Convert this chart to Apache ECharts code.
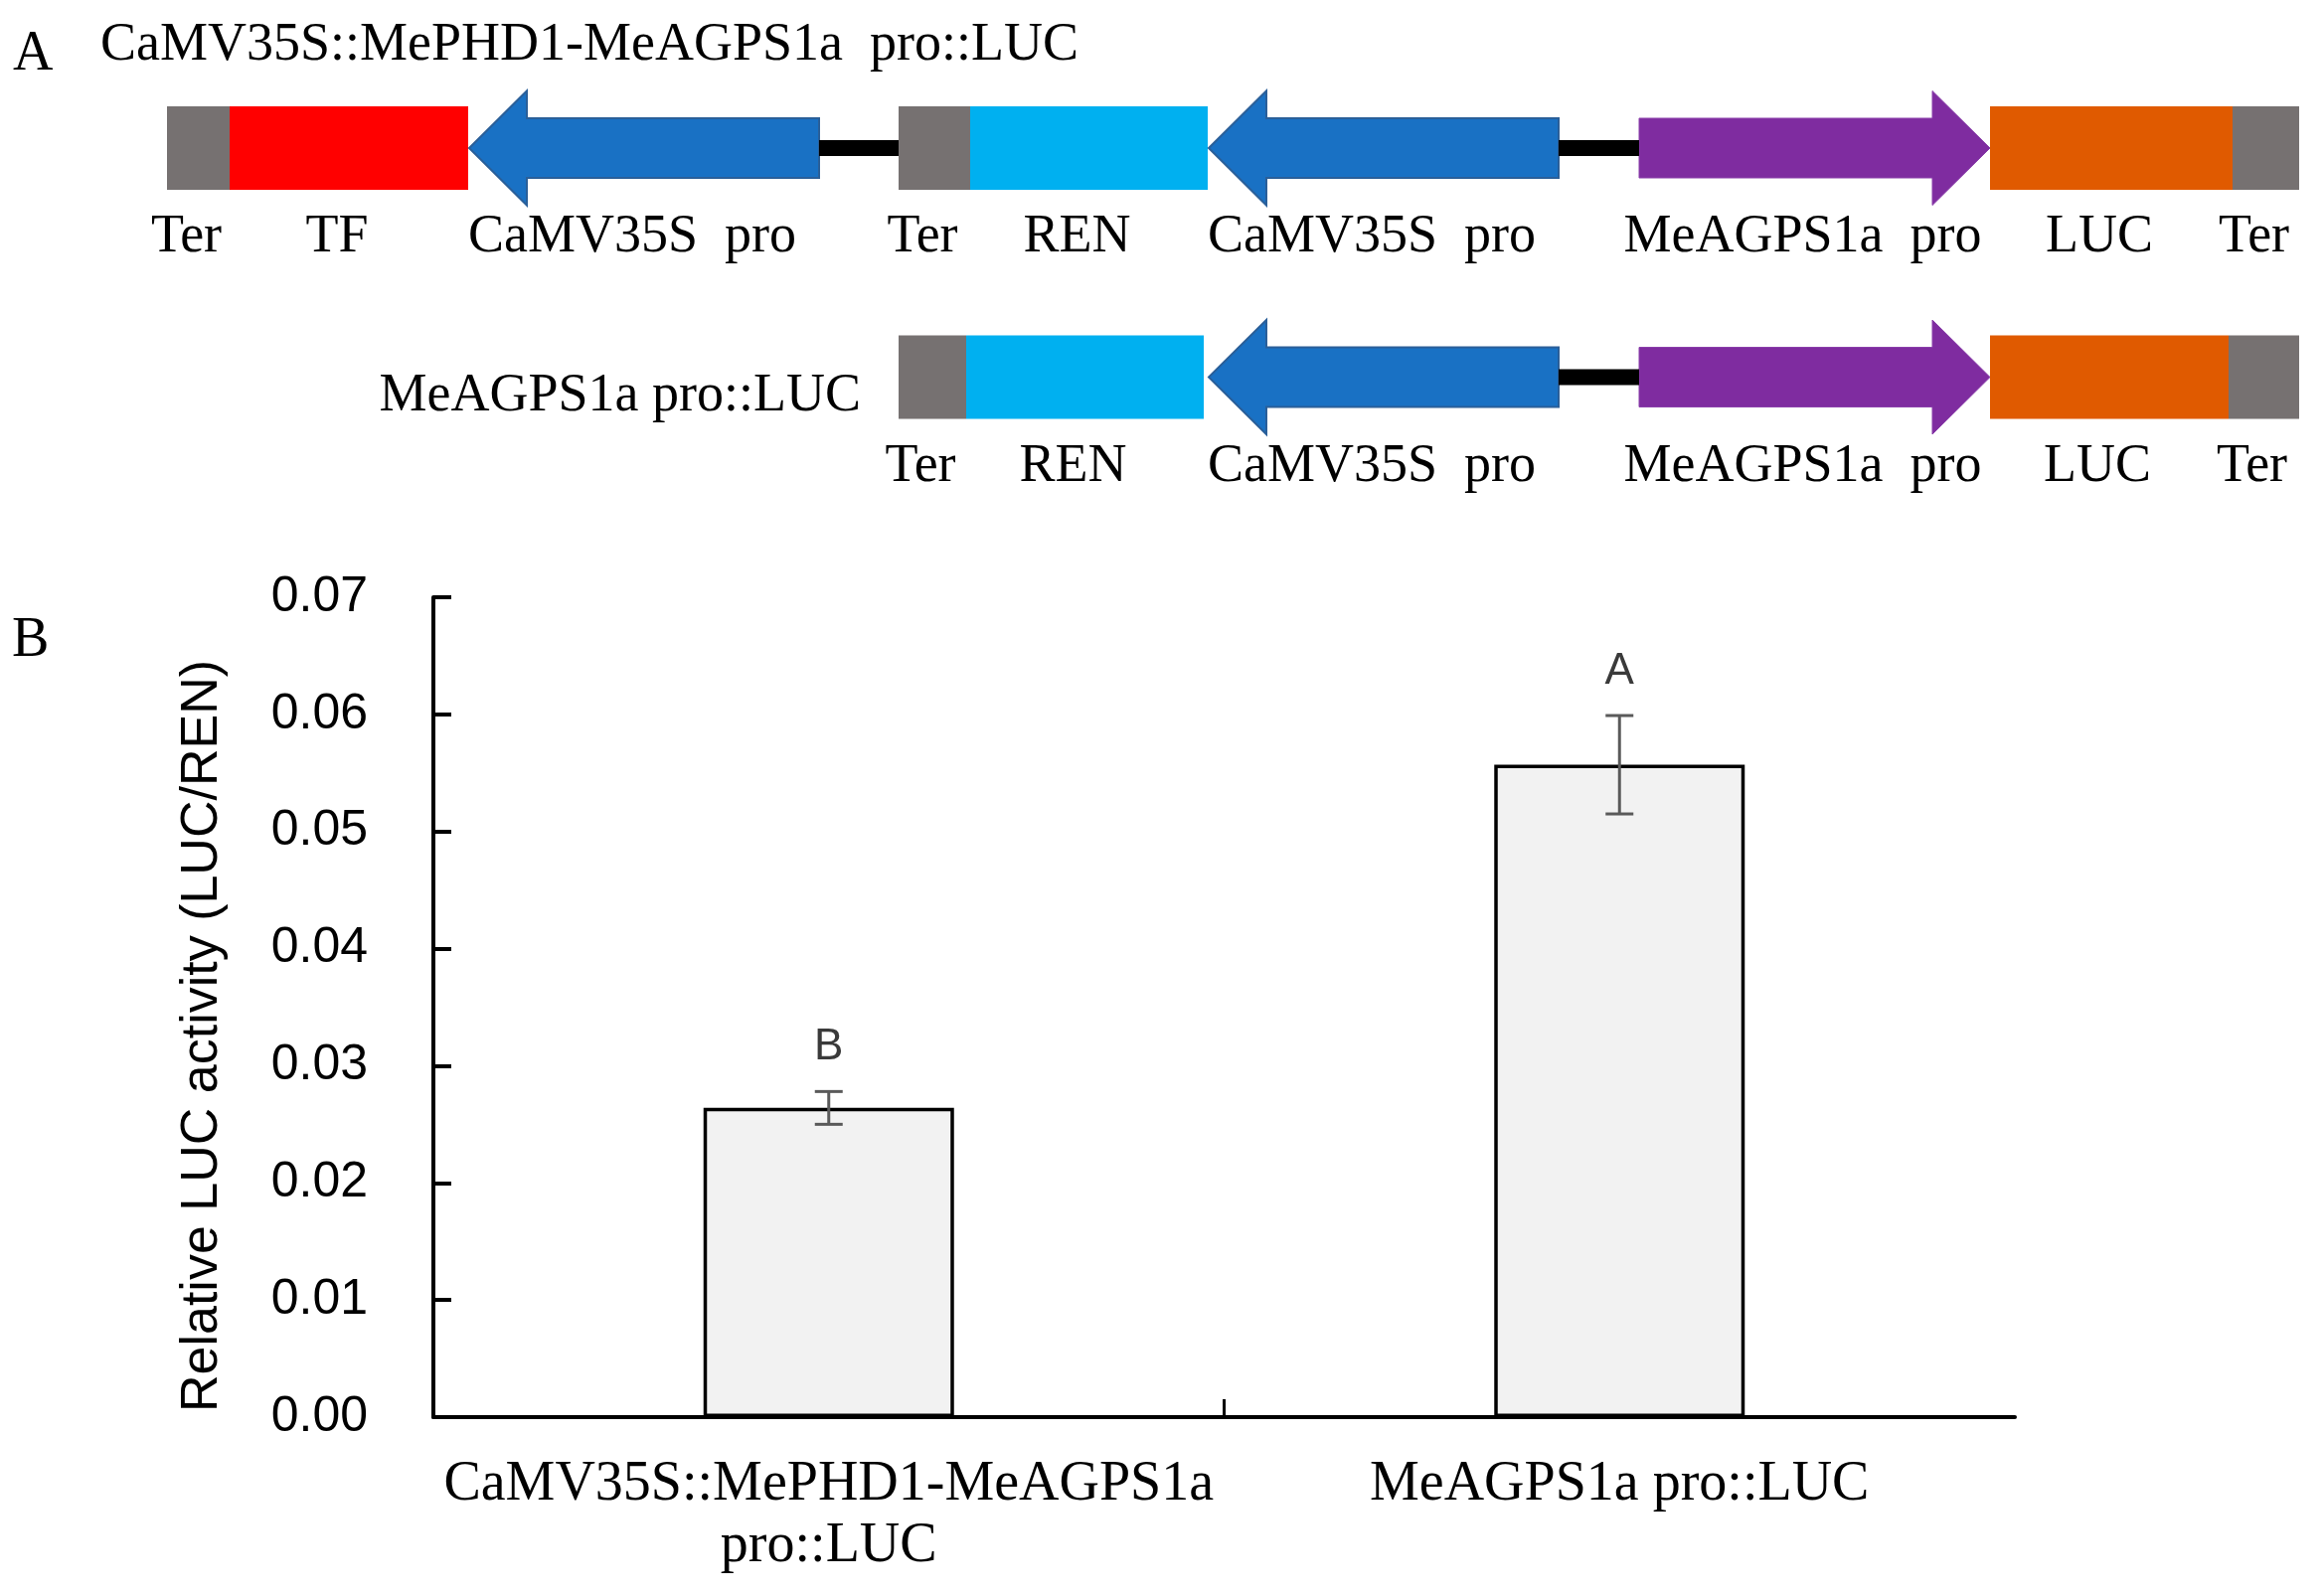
<!DOCTYPE html>
<html>
<head>
<meta charset="utf-8">
<title>LUC/REN</title>
<script src="https://cdn.jsdelivr.net/npm/echarts@6/dist/echarts.min.js"></script>
<style>
    html, body { margin: 0; padding: 0; background: #fff; }
    #main { width: 2338px; height: 1605px; }
</style>
</head>
<body>
<div id="main"></div>
<script>
// 柱状图数据 (panel B)
var groups = ['CaMV35S::MePHD1-MeAGPS1a\npro::LUC', 'MeAGPS1a pro::LUC'];
var lucRen = [0.0264, 0.0557];
var lucRenSd = [0.0014, 0.0042];
var sigLetters = ['B', 'A'];

// 载体示意图 (panel A), start / end along the construct
var rowTitles = ['CaMV35S::MePHD1-MeAGPS1a  pro::LUC', 'MeAGPS1a pro::LUC'];
var row1Parts = ['Ter', 'TF', 'CaMV35S', 'Ter', 'REN', 'CaMV35S', 'MeAGPS1a', 'LUC', 'Ter'];
var row1Start = [168, 231, 472, 904, 976, 1216, 1649, 2002, 2246];
var row1End = [231, 471, 824, 976, 1215, 1568, 2002, 2246, 2313];
var row1Links = [[824, 904], [1568, 1649]];
var row2Parts = ['Ter', 'REN', 'CaMV35S', 'MeAGPS1a', 'LUC', 'Ter'];
var row2Start = [904, 972, 1216, 1649, 2002, 2242];
var row2End = [972, 1211, 1568, 2002, 2242, 2313];
var row2Links = [[1568, 1649]];

var partLabel = { Ter: 'Ter', TF: 'TF', CaMV35S: 'CaMV35S  pro', REN: 'REN', MeAGPS1a: 'MeAGPS1a  pro', LUC: 'LUC' };
var partColor = { Ter: '#767171', TF: '#FF0000', CaMV35S: '#1971C4', REN: '#00B0F0', MeAGPS1a: '#7F2CA0', LUC: '#E05A00', link: '#000' };
var rowY = [149, 379.5];

var parts = [];
function addRow(names, starts, ends, links, row) {
    names.forEach(function (n, i) {
        parts.push({ name: n, start: starts[i], end: ends[i], row: row });
    });
    links.forEach(function (l) {
        parts.push({ name: 'link', start: l[0], end: l[1], row: row });
    });
}
addRow(row1Parts, row1Start, row1End, row1Links, 0);
addRow(row2Parts, row2Start, row2End, row2Links, 1);

var serif = '"Liberation Serif", "Times New Roman", serif';
var sans = '"Liberation Sans", Arial, sans-serif';

function renderPart(params, api) {
    var p = parts[params.dataIndex];
    var cy = rowY[p.row];
    var a = api.coord([p.start, cy]);
    var b = api.coord([p.end, cy]);
    var x0 = a[0], x1 = b[0], y = a[1];
    var color = partColor[p.name];
    var kids = [];
    if (p.name === 'link') {
        kids.push({ type: 'rect', shape: { x: x0, y: y - 8, width: x1 - x0, height: 16 }, style: { fill: color } });
        return { type: 'group', children: kids };
    }
    var head = 58, headH = 57.5, shaftH = 30;
    if (p.name === 'CaMV35S') {
        kids.push({
            type: 'polygon',
            shape: { points: [[x0, y], [x0 + head, y - headH], [x0 + head, y - shaftH], [x1, y - shaftH], [x1, y + shaftH], [x0 + head, y + shaftH], [x0 + head, y + headH]] },
            style: { fill: color, stroke: '#2A5F99', lineWidth: 2 }
        });
    } else if (p.name === 'MeAGPS1a') {
        kids.push({
            type: 'polygon',
            shape: { points: [[x1, y], [x1 - head, y - headH], [x1 - head, y - shaftH], [x0, y - shaftH], [x0, y + shaftH], [x1 - head, y + shaftH], [x1 - head, y + headH]] },
            style: { fill: color, stroke: '#8A3FAA', lineWidth: 1 }
        });
    } else {
        kids.push({ type: 'rect', shape: { x: x0, y: y - 42, width: x1 - x0, height: 84 }, style: { fill: color } });
    }
    kids.push({
        type: 'text',
        style: {
            text: partLabel[p.name], x: (x0 + x1) / 2 - 12, y: y + 90,
            align: 'center', verticalAlign: 'middle', textAlign: 'center', textVerticalAlign: 'middle',
            font: '54px ' + serif, fill: '#000'
        }
    });
    return { type: 'group', children: kids };
}

function renderErr(params, api) {
    var i = api.value(0), m = api.value(1), e = api.value(2);
    var top = api.coord([i, m + e]);
    var bot = api.coord([i, m - e]);
    var cap = 14;
    var st = { stroke: '#5A5A5A', lineWidth: 3 };
    return {
        type: 'group',
        children: [
            { type: 'line', shape: { x1: top[0], y1: top[1], x2: bot[0], y2: bot[1] }, style: st },
            { type: 'line', shape: { x1: top[0] - cap, y1: top[1], x2: top[0] + cap, y2: top[1] }, style: st },
            { type: 'line', shape: { x1: bot[0] - cap, y1: bot[1], x2: bot[0] + cap, y2: bot[1] }, style: st },
            {
                type: 'text',
                style: {
                    text: sigLetters[params.dataIndex], x: top[0], y: top[1] - 22,
                    align: 'center', verticalAlign: 'bottom', textAlign: 'center', textVerticalAlign: 'bottom',
                    font: '44px ' + sans, fill: '#3A3A3A'
                }
            }
        ]
    };
}

var myChart = echarts.init(document.getElementById('main'), null, { renderer: 'canvas' });
var option = {
    animation: false,
    backgroundColor: '#fff',
    textStyle: { fontFamily: sans, color: '#000' },
    grid: [
        { left: 436, top: 601, width: 1591, height: 825, outerBoundsMode: 'none' },
        { left: 0, top: 0, width: 2338, height: 500, outerBoundsMode: 'none' }
    ],
    xAxis: [{
        type: 'category',
        gridIndex: 0,
        data: groups,
        axisLine: { lineStyle: { color: '#000', width: 4 } },
        axisTick: { show: false },
        axisLabel: { interval: 0, margin: 37, fontSize: 56, lineHeight: 62, fontFamily: serif, color: '#000' }
    }, {
        // only the tick between the two groups
        type: 'value',
        gridIndex: 0,
        position: 'bottom',
        min: 0,
        max: 2,
        axisLine: { show: false },
        axisLabel: { show: false },
        splitLine: { show: false },
        axisTick: { show: true, inside: true, length: 18, lineStyle: { color: '#000', width: 3 }, customValues: [1] }
    }, {
        type: 'value',
        gridIndex: 1,
        min: 0,
        max: 2338,
        show: false
    }],
    yAxis: [{
        type: 'value',
        gridIndex: 0,
        min: 0,
        max: 0.07,
        interval: 0.01,
        name: 'Relative LUC activity (LUC/REN)',
        nameLocation: 'middle',
        nameGap: 206,
        nameTextStyle: { fontSize: 52, lineHeight: 52, fontFamily: sans, color: '#000', padding: [0, 58, 0, 0] },
        axisLine: { show: true, lineStyle: { color: '#000', width: 4 } },
        axisTick: { show: true, inside: true, length: 18, lineStyle: { color: '#000', width: 4 } },
        splitLine: { show: false },
        axisLabel: {
            margin: 66, fontSize: 50, fontFamily: sans, color: '#000',
            formatter: function (v) { return v.toFixed(2); }
        }
    }, {
        type: 'value',
        gridIndex: 1,
        min: 0,
        max: 500,
        inverse: true,
        show: false
    }],
    graphic: [
        { type: 'text', left: 13, top: 27, style: { text: 'A', font: '56px ' + serif, fill: '#000' } },
        { type: 'text', left: 101, top: 19, style: { text: rowTitles[0], font: '54px ' + serif, fill: '#000' } },
        {
            type: 'text', x: 866, y: 399,
            style: { text: rowTitles[1], align: 'right', verticalAlign: 'middle', textAlign: 'right', textVerticalAlign: 'middle', font: '54px ' + serif, fill: '#000' }
        },
        { type: 'text', left: 12, top: 617, style: { text: 'B', font: '56px ' + serif, fill: '#000' } }
    ],
    series: [{
        type: 'bar',
        xAxisIndex: 0,
        yAxisIndex: 0,
        data: lucRen,
        barWidth: 252,
        itemStyle: { color: '#F2F2F2', borderColor: '#000', borderWidth: 3.5 }
    }, {
        type: 'custom',
        xAxisIndex: 0,
        yAxisIndex: 0,
        renderItem: renderErr,
        encode: { x: 0, y: 1 },
        data: lucRen.map(function (v, i) { return [i, v, lucRenSd[i]]; }),
        z: 5
    }, {
        type: 'custom',
        xAxisIndex: 2,
        yAxisIndex: 1,
        renderItem: renderPart,
        encode: { x: [0, 1], y: 2 },
        data: parts.map(function (p) { return [p.start, p.end, rowY[p.row]]; }),
        z: 3
    }]
};
myChart.setOption(option);
</script>
</body>
</html>
